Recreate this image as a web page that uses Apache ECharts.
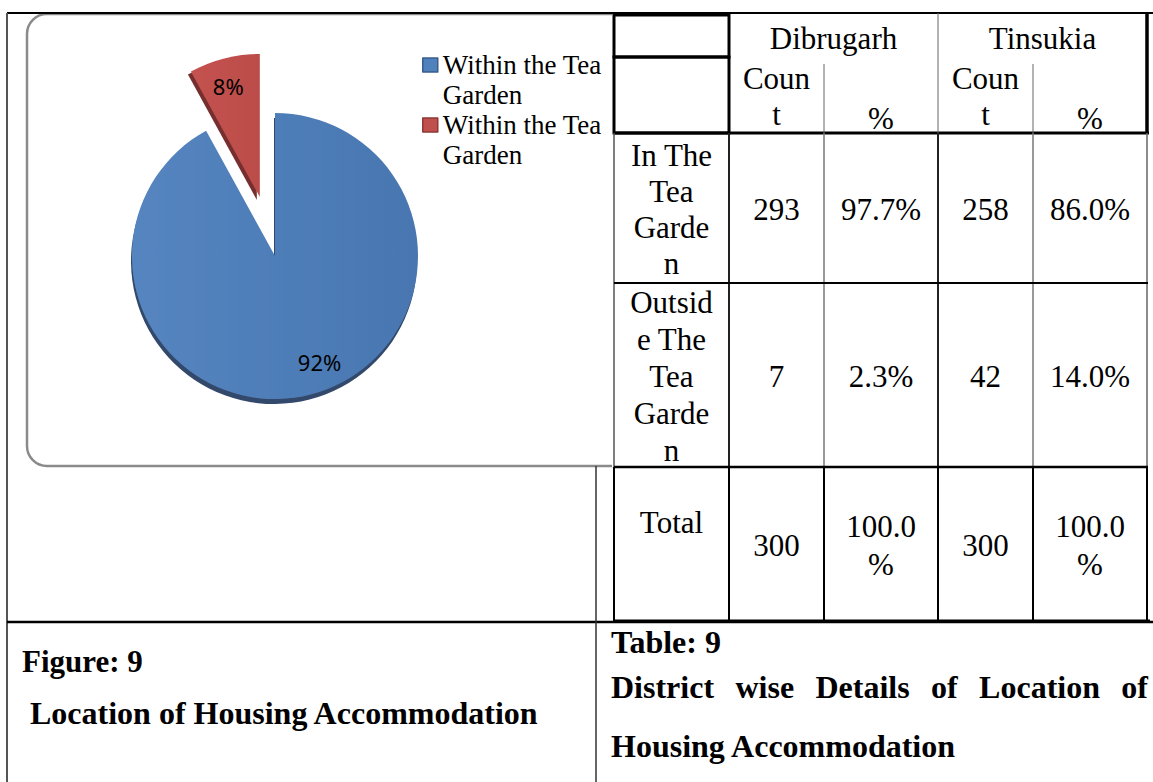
<!DOCTYPE html>
<html>
<head>
<meta charset="utf-8">
<script src="https://cdn.jsdelivr.net/npm/echarts@6/dist/echarts.min.js"></script>
<style>
  html, body { margin: 0; padding: 0; background: #fff; }
  #chart { width: 1153px; height: 782px; }
</style>
</head>
<body>
<div id="chart"></div>
<script>
// pie data
const pieNames = ['Within the Tea Garden', 'Outside the Tea Garden'];
const pieValues = [92, 8];
// the printed legend repeats the first label for both slices
const legendText = ['Within the Tea Garden', 'Within the Tea Garden'];

// table data
const districts = ['Dibrugarh', 'Tinsukia'];
const subHeads = ['Coun\nt', '%'];
const rowLabels = ['In The\nTea\nGarde\nn', 'Outsid\ne The\nTea\nGarde\nn', 'Total'];
const dibrugarhCount = [293, 7, 300];
const dibrugarhPct = [97.7, 2.3, 100.0];
const tinsukiaCount = [258, 42, 300];
const tinsukiaPct = [86.0, 14.0, 100.0];

const figCaption = ['Figure: 9', 'Location of Housing Accommodation'];
const tabCaption = ['Table: 9', 'District wise Details of Location of', 'Housing Accommodation'];

const SERIF = '"Liberation Serif", "Times New Roman", serif';
const blue = new echarts.graphic.LinearGradient(0, 0, 1, 0, [
  { offset: 0, color: '#5585c0' },
  { offset: 1, color: '#4876b0' }
]);
const red = new echarts.graphic.LinearGradient(0, 0, 1, 0, [
  { offset: 0, color: '#c4524f' },
  { offset: 1, color: '#bb4d4a' }
]);
const labelShift = [[26, 34], [-13, -39]];

function pct(v) {
  // the 100.0% cells wrap in the printed table
  return v === 100 ? '100.0\n%' : v.toFixed(1) + '%';
}

function seg(x1, y1, x2, y2, w, color) {
  return { type: 'line', z: 50, silent: true, shape: { x1, y1, x2, y2 }, style: { stroke: color, lineWidth: w } };
}

function txt(text, x, y, size, opts) {
  return {
    type: 'text', z: 60, silent: true,
    style: Object.assign({
      text, x, y, fill: '#000',
      font: size + 'px ' + SERIF,
      align: 'center', verticalAlign: 'middle', lineHeight: 36
    }, opts || {})
  };
}

function measure(text, font) {
  const ctx = document.createElement('canvas').getContext('2d');
  ctx.font = font;
  return ctx.measureText(text).width;
}

// justified caption line
function justified(text, x1, x2, y, font) {
  const words = text.split(' ');
  const widths = words.map((w) => measure(w, font));
  const gap = (x2 - x1 - widths.reduce((a, b) => a + b, 0)) / (words.length - 1);
  let x = x1;
  return words.map((w, i) => {
    const el = txt(w, x, y, 0, { font, align: 'left' });
    x += widths[i] + gap;
    return el;
  });
}

const colX = [614, 729, 824, 938, 1033, 1147];
const colMid = (i) => (colX[i] + colX[i + 1]) / 2;

const elements = [];
// frame of the chart area
elements.push({ type: 'rect', z: 0, silent: true, shape: { x: 27, y: 14, width: 640, height: 452, r: 20 },
  style: { fill: '#fff', stroke: '#8a8a8a', lineWidth: 2.5 } });
elements.push({ type: 'rect', z: 40, silent: true, shape: { x: 612, y: 14, width: 541, height: 453 }, style: { fill: '#fff' } });

// page frame and caption rules
elements.push(seg(7, 13, 1153, 13, 2, '#000'));
elements.push(seg(7, 13, 7, 782, 2, '#555'));
elements.push(seg(7, 622, 1153, 622, 2.5, '#000'));
elements.push(seg(596, 466, 596, 782, 1.5, '#333'));

// table header
elements.push({ type: 'rect', z: 50, silent: true, shape: { x: 614, y: 15, width: 115, height: 42 }, style: { fill: 'none', stroke: '#000', lineWidth: 3 } });
elements.push({ type: 'rect', z: 50, silent: true, shape: { x: 614, y: 57, width: 115, height: 76 }, style: { fill: 'none', stroke: '#000', lineWidth: 3 } });
elements.push(seg(614, 133, 1149, 133, 3, '#000'));
elements.push(seg(1147, 13, 1147, 133, 3.5, '#000'));
elements.push(seg(938, 13, 938, 133, 1, '#666'));
elements.push(seg(824, 64, 824, 133, 1, '#666'));
elements.push(seg(1033, 64, 1033, 133, 1, '#666'));

// table body rules
[[614, 1.5, '#555'], [729, 2, '#222'], [824, 1.5, '#777'], [938, 2, '#222'], [1033, 1.5, '#777'], [1147, 1.5, '#666']]
  .forEach(([x, w, c]) => {
    elements.push(seg(x, 133, x, 467, w, c));
    elements.push(seg(x, 467, x, 621, 2, '#000'));
  });
elements.push(seg(614, 283, 1148, 283, 2, '#000'));
elements.push(seg(614, 467, 1148, 467, 2.5, '#000'));
elements.push(seg(614, 621, 1150, 621, 3, '#000'));

// header texts
districts.forEach((d, k) => {
  const c0 = 1 + k * 2;
  elements.push(txt(d, (colX[c0] + colX[c0 + 2]) / 2, 38, 31));
  elements.push(txt(subHeads[0], colMid(c0), 96, 31));
  elements.push(txt(subHeads[1], colMid(c0 + 1), 118, 31));
});

// body texts
const rowMid = [209, 376, 545];
rowLabels.forEach((lab, r) => {
  const labY = r === 2 ? 522 : rowMid[r];
  elements.push(txt(lab, colMid(0), labY, 31, { lineHeight: r === 1 ? 37 : 36 }));
  elements.push(txt(String(dibrugarhCount[r]), colMid(1), rowMid[r], 31));
  elements.push(txt(pct(dibrugarhPct[r]), colMid(2), rowMid[r], 31, { lineHeight: 38 }));
  elements.push(txt(String(tinsukiaCount[r]), colMid(3), rowMid[r], 31));
  elements.push(txt(pct(tinsukiaPct[r]), colMid(4), rowMid[r], 31, { lineHeight: 38 }));
});

// captions
const boldFont = 'bold 32px ' + SERIF;
elements.push(txt(figCaption[0], 22, 661, 0, { font: 'bold 31px ' + SERIF, align: 'left' }));
elements.push(txt(figCaption[1], 30, 713, 0, { font: boldFont, align: 'left' }));
elements.push(txt(tabCaption[0], 611, 642, 0, { font: boldFont, align: 'left' }));
elements.push(...justified(tabCaption[1], 611, 1148, 687, boldFont));
elements.push(txt(tabCaption[2], 611, 746, 0, { font: boldFont, align: 'left' }));

const chart = echarts.init(document.getElementById('chart'), null, { renderer: 'svg' });

const option = {
  backgroundColor: '#fff',
  animation: false,
  legend: {
    orient: 'vertical',
    left: 422,
    top: 20,
    padding: 0,
    icon: 'rect',
    itemWidth: 15,
    itemHeight: 14,
    itemGap: -30,
    selectedMode: false,
    data: [
      { name: pieNames[0], itemStyle: { color: '#4f81bd', borderColor: '#385d8a', borderWidth: 1.5 } },
      { name: pieNames[1], itemStyle: { color: '#c0504d', borderColor: '#8c3836', borderWidth: 1.5 } }
    ],
    // an empty first line keeps the marker level with the first text line
    formatter: (name) => '\n' + legendText[pieNames.indexOf(name)],
    textStyle: {
      fontFamily: SERIF,
      fontSize: 27,
      color: '#000',
      lineHeight: 30,
      width: 178,
      overflow: 'break'
    }
  },
  graphic: { elements },
  series: [
    {
      type: 'pie',
      z: 5,
      center: [275, 256],
      radius: 143,
      startAngle: 90,
      clockwise: true,
      selectedMode: 'single',
      selectedOffset: 61,
      avoidLabelOverlap: false,
      emphasis: { disabled: true },
      label: {
        position: 'inner',
        formatter: '{d}%',
        fontFamily: '"Noto Sans", sans-serif',
        fontSize: 22,
        color: '#000'
      },
      labelLine: { show: false },
      labelLayout: (params) => ({ dx: labelShift[params.dataIndex][0], dy: labelShift[params.dataIndex][1] }),
      data: [
        {
          name: pieNames[0], value: pieValues[0],
          itemStyle: { color: blue, shadowColor: 'rgba(38,64,100,0.95)', shadowOffsetX: -1, shadowOffsetY: 5, shadowBlur: 1 }
        },
        {
          name: pieNames[1], value: pieValues[1], selected: true,
          itemStyle: { color: red, shadowColor: 'rgba(110,36,34,0.95)', shadowOffsetX: -3, shadowOffsetY: 3, shadowBlur: 1 },
          select: { itemStyle: { color: red, borderWidth: 0 } }
        }
      ]
    }
  ]
};

chart.setOption(option);
</script>
</body>
</html>
